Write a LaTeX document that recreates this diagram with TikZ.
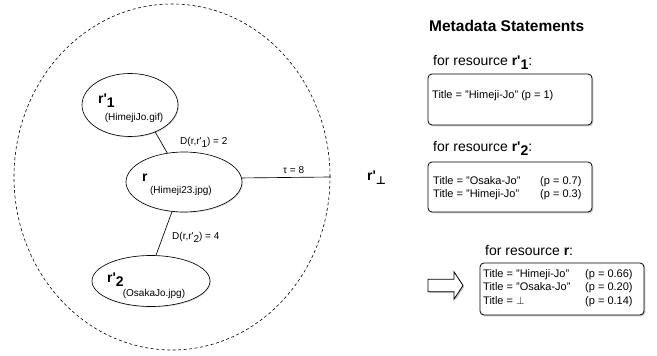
\documentclass[tikz,border=0pt]{standalone}
\usepackage{fontspec}
\setmainfont{Liberation Sans}
\newfontfamily\symfont{DejaVu Sans}
\usetikzlibrary{shapes.geometric,shadows}
\newcommand{\pr}{\textquotesingle}
\newcommand{\mysub}[1]{\raisebox{-0.32em}{#1}}
\tikzset{
  shad/.style={drop shadow={shadow xshift=1.3pt, shadow yshift=-1.3pt, opacity=0.35, fill=black!60}},
  lshad/.style={drop shadow={shadow xshift=1pt, shadow yshift=-1pt, opacity=0.2, fill=black!60}},
  ell/.style={draw, ellipse, inner sep=0pt, line width=0.65pt, fill=white, lshad},
  mbox/.style={draw, rounded corners=4pt, fill=white, line width=0.8pt, inner sep=0pt, minimum width=164pt, shad},
  conn/.style={line width=0.65pt},
  small/.style={inner sep=0pt, font=\fontsize{10}{12}\selectfont},
  lbl/.style={small, anchor=base west},
  txt/.style={inner sep=0pt, anchor=base west, font=\fontsize{11}{13}\selectfont},
  head/.style={inner sep=0pt, anchor=base west, font=\fontsize{14}{16}\selectfont},
  bigr/.style={inner sep=0pt, anchor=base west, font=\fontsize{14}{16}\selectfont\bfseries},
  title/.style={inner sep=0pt, anchor=base west, font=\fontsize{15.5}{18}\selectfont\bfseries}
}
\begin{document}
\begin{tikzpicture}[x=1pt,y=-1pt]
\useasboundingbox (0,0) rectangle (657,356);
% dashed zone
\node[draw, ellipse, inner sep=0pt, minimum width=316pt, minimum height=346pt,
      dash pattern=on 3pt off 2.5pt, line width=0.6pt] (zone) at (172,177) {};
% resource ellipses
\node[ell, minimum width=96pt, minimum height=63pt] (r1) at (130,105) {};
\node[ell, minimum width=116pt, minimum height=60pt] (r) at (184,182) {};
\node[ell, minimum width=118pt, minimum height=51pt] (r2) at (151,281) {};
% connectors
\draw[conn] (r1.-47) -- (r.120);
\draw[conn] (r.-112) -- (r2.79);
\draw[conn] (r.4) -- (zone.east);
% ellipse texts
\node[bigr] (t1) at (98,103) {r\pr\mysub{1}};
\node[small] (t1b) at (134,118) {(HimejiJo.gif)};
\node[bigr] (tr) at (142,181) {r};
\node[small] (trb) at (181,191) {(Himeji23.jpg)};
\node[bigr] (t2) at (107,282) {r\pr\mysub{2}};
\node[small] (t2b) at (154,294) {(OsakaJo.jpg)};
% connector labels
\node[lbl] (d1) at (180,144) {D(r,r\pr\mysub{1}) = 2};
\node[lbl] (d2) at (172,239) {D(r,r\pr\mysub{2}) = 4};
\node[lbl] (tau) at (283,173) {τ = 8};
\node[bigr] (rperp) at (367,180) {r\pr\mysub{\fontsize{11}{13}\symfont\bfseries ⊥}};
% right side
\node[title] (mt) at (429,31) {Metadata Statements};
\node[head] (h1) at (433,65.5) {for resource \textbf{r\pr\mysub{1}}:};
\node[mbox, minimum height=51pt] (b1) at (510,99.5) {};
\node[txt] (b1l1) at (432,98.5) {Title = "Himeji-Jo" (p = 1)};
\node[head] (h2) at (433,151.5) {for resource \textbf{r\pr\mysub{2}}:};
\node[mbox, minimum height=50pt] (b2) at (510,187) {};
\node[txt] (b2l1) at (433,184) {Title = "Osaka-Jo"};
\node[txt] (b2p1) at (540,184) {(p = 0.7)};
\node[txt] (b2l2) at (433,197) {Title = "Himeji-Jo"};
\node[txt] (b2p2) at (540,197) {(p = 0.3)};
\node[head] (h3) at (485,255) {for resource \textbf{r}:};
\node[mbox, minimum height=52pt] (b3) at (562,289) {};
\node[txt] (b3l1) at (483,277.5) {Title = "Himeji-Jo"};
\node[txt] (b3p1) at (585,277.5) {(p = 0.66)};
\node[txt] (b3l2) at (483,290.8) {Title = "Osaka-Jo"};
\node[txt] (b3p2) at (585,290.8) {(p = 0.20)};
\node[txt] (b3l3) at (483,304) {Title = $\perp$};
\node[txt] (b3p3) at (585,304) {(p = 0.14)};
% block arrow
\path[draw, fill=white, line width=0.8pt, line join=miter, shad]
  (428,279.3) -- (454,279.3) -- (454,271.8) -- (463,285.5) -- (454,299.2)
  -- (454,291.7) -- (428,291.7) -- cycle;
\end{tikzpicture}
\end{document}
